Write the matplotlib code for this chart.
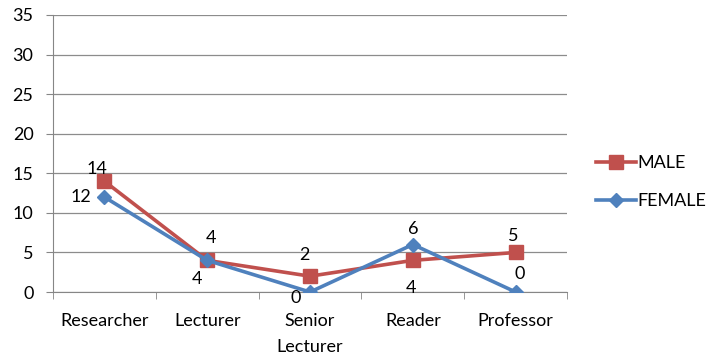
import matplotlib.pyplot as plt

categories = ["Researcher", "Lecturer", "Senior\nLecturer", "Reader", "Professor"]
male = [14, 4, 2, 4, 5]
female = [12, 4, 0, 6, 0]

# label offsets (points) per point: male / female
male_offsets = [(-5, 9), (3, 16), (-4, 15), (-1.5, -20), (-2, 12)]
female_offsets = [(-17, 0), (-7.5, -13.5), (-10, -4.5), (0, 11), (3, 13)]

plt.rcParams['font.family'] = ['Lato', 'DejaVu Sans']
fs = 13

fig = plt.figure(figsize=(7.16, 3.57), dpi=100)
ax = fig.add_axes([0.074, 0.182, 0.718, 0.776])

x = list(range(len(categories)))
ax.plot(x, male, color='#C0504D', lw=2.6, marker='s', ms=9.5, label='MALE', zorder=3)
ax.plot(x, female, color='#4F81BD', lw=2.6, marker='D', ms=7.5, label='FEMALE', zorder=4)

for i, v in enumerate(male):
    ax.annotate(str(v), (x[i], v), xytext=male_offsets[i], textcoords='offset points',
                ha='center', va='center', fontsize=fs)
for i, v in enumerate(female):
    ax.annotate(str(v), (x[i], v), xytext=female_offsets[i], textcoords='offset points',
                ha='center', va='center', fontsize=fs)

ax.set_xlim(-0.5, len(categories) - 0.5)
ax.set_ylim(0, 35)
ax.set_yticks(range(0, 36, 5))
ax.set_xticks(x)
ax.set_xticklabels(categories, fontsize=fs, linespacing=1.75)
ax.set_xticks([i - 0.5 for i in range(len(categories) + 1)], minor=True)
ax.tick_params(axis='x', which='major', length=0, pad=15)
ax.tick_params(axis='x', which='minor', length=5, color='#868686')
ax.tick_params(axis='y', length=5, color='#868686', labelsize=fs, pad=9)
ax.grid(axis='y', color='#8c8c8c', lw=0.9)
ax.set_axisbelow(True)
for side in ['top', 'right']:
    ax.spines[side].set_visible(False)
for side in ['left', 'bottom']:
    ax.spines[side].set_color('#868686')

fig.legend(loc='upper left', bbox_to_anchor=(0.81, 0.61), frameon=False,
           fontsize=fs, handlelength=2.2, handletextpad=0.1, labelspacing=1.2)

fig.savefig('out.png', dpi=100)
